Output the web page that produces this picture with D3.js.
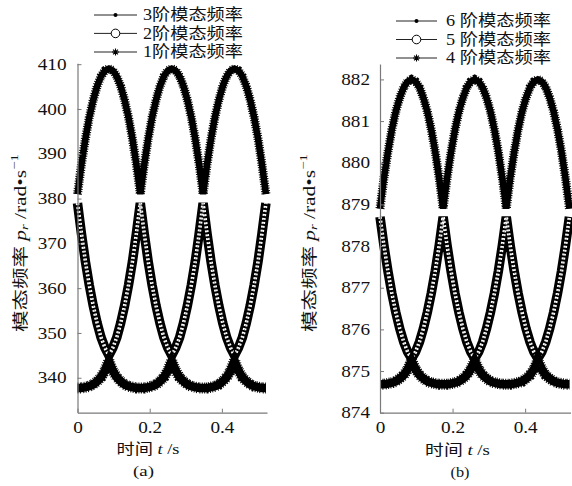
<!DOCTYPE html>
<html><head><meta charset="utf-8">
<script src="https://cdn.jsdelivr.net/npm/d3@7"></script>
<style>body{margin:0;background:#fff}svg{display:block}</style>
</head><body>
<svg id="c" width="572" height="486"></svg>
<script>
// time samples (s)
const time = [0,0.0109,0.0218,0.0326,0.0435,0.0544,0.0653,0.0761,0.087,0.0979,0.1088,0.1196,0.1305,0.1414,0.1523,0.1631,0.174,0.1849,0.1958,0.2066,0.2175,0.2284,0.2393,0.2501,0.261,0.2719,0.2828,0.2936,0.3045,0.3154,0.3263,0.3371,0.348,0.3589,0.3698,0.3806,0.3915,0.4024,0.4133,0.4241,0.435,0.4459,0.4568,0.4676,0.4785,0.4894,0.5003,0.5111,0.522];

// (a) modes 3,2,1
const mode3 = [381.0,387.6,393.3,398.1,402.0,405.1,407.3,408.6,409.0,408.6,407.3,405.1,402.0,398.1,393.3,387.6,
               381.0,387.6,393.3,398.1,402.0,405.1,407.3,408.6,409.0,408.6,407.3,405.1,402.0,398.1,393.3,387.6,
               381.0,387.6,393.3,398.1,402.0,405.1,407.3,408.6,409.0,408.6,407.3,405.1,402.0,398.1,393.3,387.6,381.0];
const mode2 = [379.0,372.2,366.0,360.7,356.1,352.2,349.0,346.7,345.0,346.7,349.0,352.2,356.1,360.7,366.0,372.2,
               379.0,372.2,366.0,360.7,356.1,352.2,349.0,346.7,345.0,346.7,349.0,352.2,356.1,360.7,366.0,372.2,
               379.0,372.2,366.0,360.7,356.1,352.2,349.0,346.7,345.0,346.7,349.0,352.2,356.1,360.7,366.0,372.2,379.0];
const mode1 = [337.7,337.7,337.9,338.1,338.5,339.2,340.1,341.6,343.8,341.6,340.1,339.2,338.5,338.1,337.9,337.7,
               337.7,337.7,337.9,338.1,338.5,339.2,340.1,341.6,343.8,341.6,340.1,339.2,338.5,338.1,337.9,337.7,
               337.7,337.7,337.9,338.1,338.5,339.2,340.1,341.6,343.8,341.6,340.1,339.2,338.5,338.1,337.9,337.7,337.7];
// (b) modes 6,5,4
const mode6 = [878.9,879.63,880.26,880.79,881.23,881.56,881.81,881.95,882.0,881.95,881.81,881.56,881.23,880.79,880.26,879.63,
               878.9,879.63,880.26,880.79,881.23,881.56,881.81,881.95,882.0,881.95,881.81,881.56,881.23,880.79,880.26,879.63,
               878.9,879.63,880.26,880.79,881.23,881.56,881.81,881.95,882.0,881.95,881.81,881.56,881.23,880.79,880.26,879.63,878.9];
const mode5 = [878.7,878.01,877.4,876.87,876.41,876.02,875.7,875.46,875.3,875.46,875.7,876.02,876.41,876.87,877.4,878.01,
               878.7,878.01,877.4,876.87,876.41,876.02,875.7,875.46,875.3,875.46,875.7,876.02,876.41,876.87,877.4,878.01,
               878.7,878.01,877.4,876.87,876.41,876.02,875.7,875.46,875.3,875.46,875.7,876.02,876.41,876.87,877.4,878.01,878.7];
const mode4 = [874.68,874.68,874.7,874.72,874.75,874.82,874.9,875.04,875.25,875.04,874.9,874.82,874.75,874.72,874.7,874.68,
               874.68,874.68,874.7,874.72,874.75,874.82,874.9,875.04,875.25,875.04,874.9,874.82,874.75,874.72,874.7,874.68,
               874.68,874.68,874.7,874.72,874.75,874.82,874.9,875.04,875.25,875.04,874.9,874.82,874.75,874.72,874.7,874.68,874.68];

const xTicks = [0, 0.2, 0.4];
const yTicksA = [340, 350, 360, 370, 380, 390, 400, 410];
const yTicksB = [874, 875, 876, 877, 878, 879, 880, 881, 882];
const legendA = ["3阶模态频率", "2阶模态频率", "1阶模态频率"];
const legendB = ["6 阶模态频率", "5 阶模态频率", "4 阶模态频率"];
const markerKinds = ["dot", "circle", "star"];
const bandKinds = ["star", "circle", "star"];

const SERIF = "Liberation Serif";
const CJK = "Liberation Serif, Noto Sans CJK SC";
const svg = d3.select("#c");

function fitH(t, x, y, target, anchor) {
  t.attr("x", 0).attr("y", 0).attr("text-anchor", anchor || "middle").attr("dominant-baseline", "central");
  const w = t.node().getComputedTextLength();
  t.attr("transform", `translate(${x},${y}) scale(${target / w},1)`);
}

const starPath = s => `M${-s},0H${s}M0,${-s}V${s}M${-s*0.7},${-s*0.7}L${s*0.7},${s*0.7}M${-s*0.7},${s*0.7}L${s*0.7},${-s*0.7}`;

function panel(cfg) {
  const x = d3.scaleLinear().domain([0, 0.525]).range(cfg.xr);
  const y = d3.scaleLinear().domain(cfg.yd).range(cfg.yr);
  const g = svg.append("g");

  // bands
  const line = d3.line().x((d, i) => x(time[i])).y(d => y(d));
  cfg.series.forEach((s, i) => {
    const kind = bandKinds[i];
    if (kind === "circle") {
      g.append("path").attr("d", line(s)).attr("fill", "none").attr("stroke", "#000").attr("stroke-width", 9.5);
      g.append("path").attr("d", line(s)).attr("fill", "none").attr("stroke", "#fff").attr("stroke-width", 3.6)
        .attr("stroke-dasharray", "2 2");
      g.append("path").attr("d", line(s)).attr("fill", "none").attr("stroke", "#777").attr("stroke-width", 0.8)
        .attr("stroke-dasharray", "1 3");
    } else {
      const w = i === 2 ? 8.5 : 6.5;
      g.append("path").attr("d", line(s)).attr("fill", "none").attr("stroke", "#000").attr("stroke-width", w);
      g.append("path").attr("d", line(s)).attr("fill", "none").attr("stroke", "#000").attr("stroke-width", w + 2.5)
        .attr("stroke-dasharray", "1 1.4");
    }
  });

  // axes
  const ya = d3.axisLeft(y).tickValues(cfg.yTicks).tickSizeInner(-4).tickSizeOuter(0).tickPadding(cfg.ypad).tickFormat(d3.format("d"));
  const xa = d3.axisBottom(x).tickValues(xTicks).tickSizeInner(-4).tickSizeOuter(0).tickPadding(9).tickFormat(d => d === 0 ? "0" : d3.format(".1f")(d));
  const yg = g.append("g").attr("transform", `translate(${cfg.xr[0]},0)`).call(ya);
  const xg = g.append("g").attr("transform", `translate(0,${cfg.yr[0]})`).call(xa);
  [yg, xg].forEach(a => {
    a.attr("font-family", SERIF).attr("font-size", 16);
    a.select(".domain").attr("stroke", "#7a7a7a").attr("stroke-width", 1.2);
    a.selectAll(".tick line").attr("stroke", "#7a7a7a").attr("stroke-width", 1);
    a.selectAll(".tick text").style("font-family", SERIF).style("font-size", "16px").attr("fill", "#111");
  });
  yg.selectAll(".tick text").attr("x", 0).attr("transform", `translate(${-cfg.ypad},0) scale(1.2,1)`);
  xg.selectAll(".tick text").attr("y", 0).attr("dy", "0.71em").attr("transform", `translate(0,9) scale(1.2,1)`);

  // legend
  cfg.legend.forEach((lab, i) => {
    const ly = cfg.legY[i];
    g.append("line").attr("x1", cfg.legX[0]).attr("x2", cfg.legX[1]).attr("y1", ly).attr("y2", ly)
      .attr("stroke", "#222").attr("stroke-width", 1);
    const mx = (cfg.legX[0] + cfg.legX[1]) / 2;
    const k = markerKinds[i];
    if (k === "dot") g.append("circle").attr("cx", mx).attr("cy", ly).attr("r", 2).attr("fill", "#000");
    else if (k === "circle") g.append("circle").attr("cx", mx).attr("cy", ly).attr("r", 4.3).attr("fill", "#fff").attr("stroke", "#000").attr("stroke-width", 1);
    else g.append("path").attr("d", starPath(3.5)).attr("transform", `translate(${mx},${ly})`).attr("stroke", "#000").attr("stroke-width", 1.1);
    const t = g.append("text").style("font-family", CJK).attr("font-size", 16).attr("fill", "#111").text(lab);
    fitH(t, cfg.legText, ly, cfg.legW, "start");
  });

  // x label
  const xl = g.append("text").style("font-family", CJK).attr("font-size", 15).attr("fill", "#111");
  xl.append("tspan").text("时间 ");
  xl.append("tspan").attr("font-style", "italic").style("font-family", SERIF).text("t");
  xl.append("tspan").style("font-family", SERIF).text(" /s");
  fitH(xl, cfg.xlab[0], cfg.xlab[1], cfg.xlab[2]);

  const pl = g.append("text").style("font-family", SERIF).attr("font-size", 15).attr("fill", "#111").text(cfg.tag);
  fitH(pl, cfg.tagPos[0], cfg.tagPos[1], cfg.tagPos[2]);

  // y label
  const yl = g.append("text").style("font-family", CJK).attr("font-size", 16).attr("fill", "#111");
  yl.append("tspan").text("模态频率  ");
  yl.append("tspan").style("font-family", SERIF).attr("font-style", "italic").text("p");
  yl.append("tspan").style("font-family", SERIF).attr("font-style", "italic").attr("font-size", 11).attr("dy", 4).text("r");
  yl.append("tspan").style("font-family", SERIF).attr("dy", -4).text(" /rad•s");
  yl.append("tspan").style("font-family", SERIF).attr("font-size", 11).attr("dy", -6).text("−1");
  yl.attr("x", 0).attr("y", 0).attr("text-anchor", "middle").attr("dominant-baseline", "central");
  const wl = yl.node().getComputedTextLength();
  yl.attr("transform", `translate(${cfg.ylab[0]},${cfg.ylab[1]}) rotate(-90) scale(${cfg.ylab[2] / wl},1)`);
}

panel({
  xr: [77.5, 267], yd: [332.2, 410.2], yr: [412.7, 63.3], yTicks: yTicksA, ypad: 11,
  series: [mode3, mode2, mode1], legend: legendA,
  legX: [94, 137], legY: [15, 33.4, 52], legText: 143, legW: 100,
  xlab: [148, 449, 63], tag: "(a)", tagPos: [143.5, 471.5, 21], ylab: [20, 243, 178]
});
panel({
  xr: [380, 570.5], yd: [874, 882.37], yr: [412.7, 64], yTicks: yTicksB, ypad: 10,
  series: [mode6, mode5, mode4], legend: legendB,
  legX: [396, 437], legY: [21, 39.5, 58], legText: 446, legW: 105,
  xlab: [457.5, 450, 65], tag: "(b)", tagPos: [460, 471.5, 19], ylab: [309, 243, 178]
});
</script>
</body></html>
